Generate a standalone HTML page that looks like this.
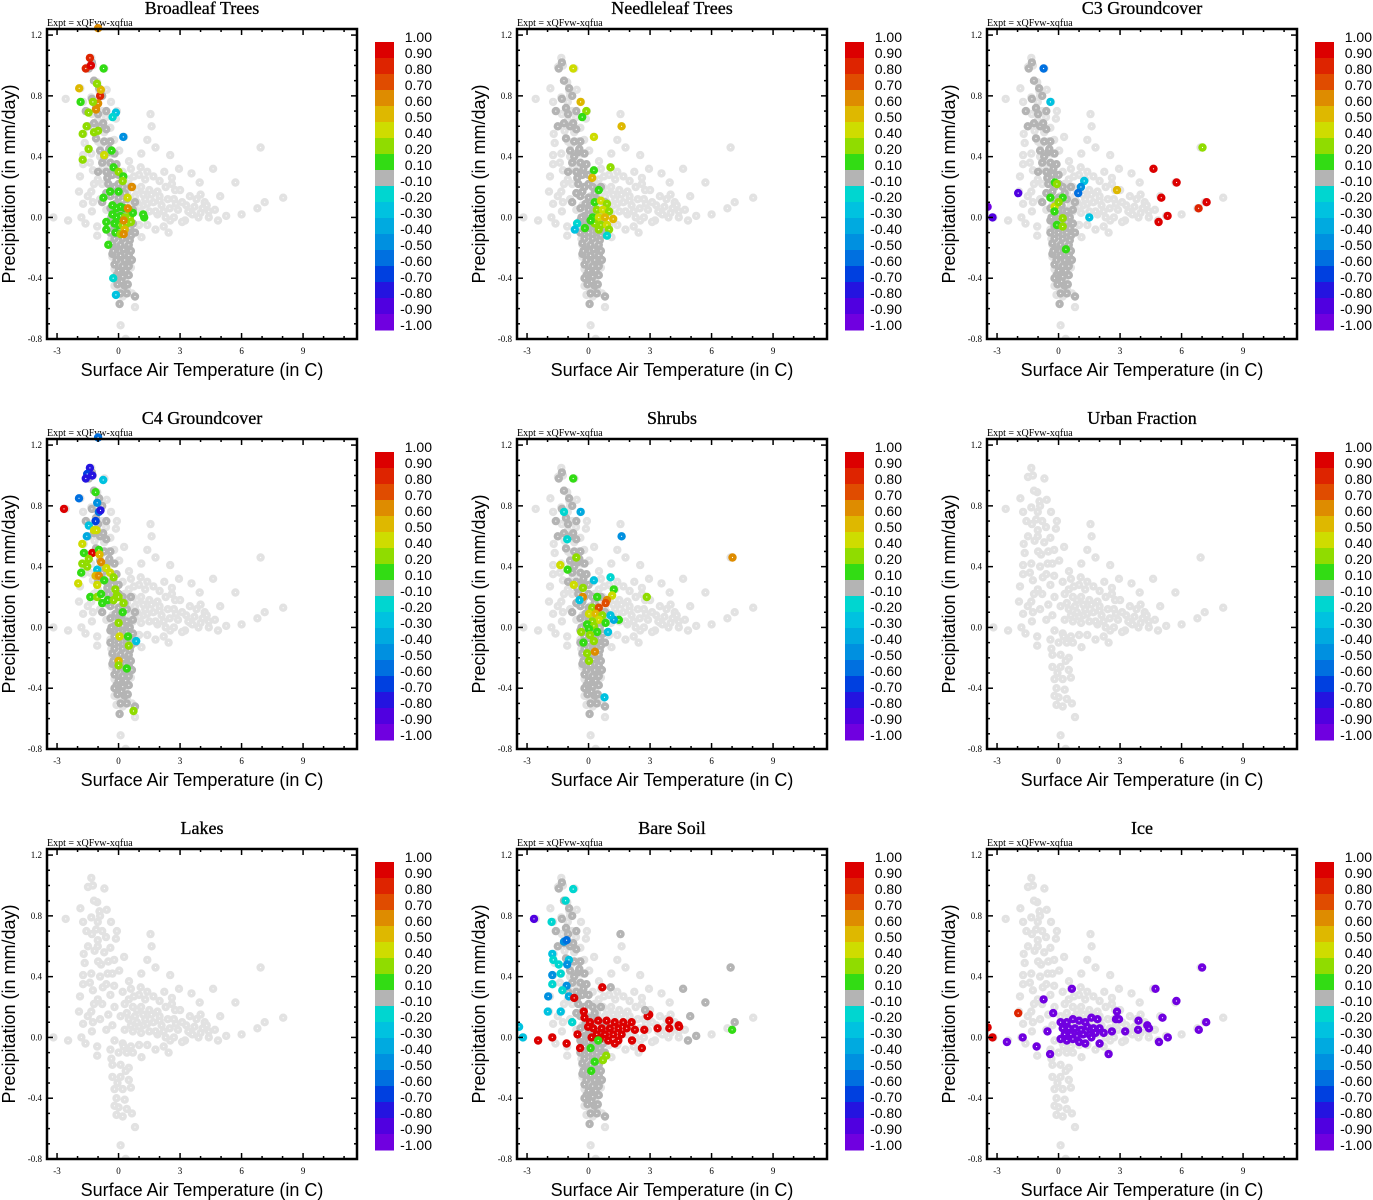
<!DOCTYPE html>
<html><head><meta charset="utf-8"><style>
html,body{margin:0;padding:0;background:#fff;}
svg{display:block;}
</style></head><body>
<svg id="fig" width="1373" height="1200" xmlns="http://www.w3.org/2000/svg"></svg>
<script>
// ---------- DATA ----------
const panelTitles = ["Broadleaf Trees","Needleleaf Trees","C3 Groundcover","C4 Groundcover","Shrubs","Urban Fraction","Lakes","Bare Soil","Ice"];
const xTicks = [-3,0,3,6,9];
const yTicks = [1.2,0.8,0.4,0.0,-0.4,-0.8];
const yTickLabels = ["1.2","0.8","0.4","0.0","-0.4","-0.8"];
const cbLabels = ["1.00","0.90","0.80","0.70","0.60","0.50","0.40","0.20","0.10","-0.10","-0.20","-0.30","-0.40","-0.50","-0.60","-0.70","-0.80","-0.90","-1.00"];
const cbBounds = [1.0,0.9,0.8,0.7,0.6,0.5,0.4,0.2,0.1,-0.1,-0.2,-0.3,-0.4,-0.5,-0.6,-0.7,-0.8,-0.9,-1.0];
const cbColors = ["#dc0000","#de2400","#e04c00","#de8c00","#deb800","#cedc00","#90dc00","#32dc14","#b4b4b4","#00d6d0","#00c2e0","#00aae0","#0090e0","#0070e0","#0040e0","#2414e0","#5000e0","#7000e0"];

// background (all cells) - temperature / precipitation
const baseT = [-1.33,-1.49,-1.25,-0.69,-1.04,-1.86,-0.58,-0.93,-2.58,-1.33,-1.73,-0.37,-1.01,-1.09,-1.57,-0.08,-0.61,-0.13,-1.01,1.56,1.61,-1.49,-1.01,-0.4,-1.7,-1.17,0.27,1.4,-0.21,-1.65,-0.85,1.8,6.93,-1.73,-1.33,-0.53,0.03,1.11,2.52,-1.73,0.51,-1.25,-0.77,-0.21,1.08,1.4,2.95,4.61,2.23,3.56,-1.88,2.6,3.96,5.7,0.75,-1.01,-1.93,-1.33,2.76,3.48,4.96,8.03,-1.73,-1.25,7.13,6.77,6.0,5.25,4.85,3.24,2.52,2.44,-1.81,-3.18,-2.46,-1.61,-1.04,-1.04,1.12,
 -1.2,-0.9,-0.8,-1.3,-0.7,-0.5,-1.0,-0.9,-0.3,-0.6,-1.4,-0.4,-0.8,-1.2,-0.5,-1.5,-0.9,-0.6,-1.3,
 0.2,0.6,1.0,1.3,1.7,2.0,0.3,0.7,1.1,1.5,1.9,2.3,2.7,3.1,0.1,0.5,0.9,1.3,1.7,2.1,2.5,2.9,3.3,3.7,4.1,4.4,4.2,3.8,4.7,4.4,3.9,3.5,0.3,0.7,1.1,1.5,1.9,2.3,2.7,3.1,0.2,0.6,1.0,1.4,1.8,2.2,-0.2,-0.3,-0.2,0.9,1.2,0.5,2.6,3.0,4.0,2.0,
 0.4,0.8,1.2,1.6,2.0,2.4,2.8,0.6,1.0,1.4,1.8,2.2,3.4,3.6,4.0,4.3,
 -0.4,0.0,0.4,0.7,-0.3,0.1,0.5,-0.3,0.1,0.5,-0.2,0.2,0.6,-0.1,0.3,0.0,0.4,-0.1,0.2,0.65,0.8,0.1,0.35,-0.35,0.25,-0.05,0.35,-0.2];
const baseP = [1.05,0.99,1.0,0.98,0.89,0.85,0.84,0.83,0.78,0.79,0.76,0.76,0.76,0.71,0.70,0.70,0.66,0.65,0.64,0.68,0.6,0.6,0.6,0.59,0.55,0.57,0.53,0.51,0.51,0.49,0.48,0.46,0.46,0.41,0.42,0.42,0.44,0.42,0.41,0.35,0.37,0.31,0.33,0.34,0.33,0.3,0.32,0.32,0.3,0.29,0.27,0.26,0.23,0.23,0.27,0.25,0.17,0.17,0.18,0.14,0.14,0.13,0.09,0.1,0.1,0.06,0.02,0.01,-0.02,-0.02,-0.02,-0.1,0.0,0.0,-0.02,-0.04,-0.06,-0.12,-0.13,
 0.9,0.8,0.7,0.68,0.56,0.5,0.5,0.4,0.42,0.35,0.36,0.28,0.22,0.22,0.15,0.14,0.12,0.05,0.04,
 0.3,0.32,0.28,0.25,0.27,0.24,0.22,0.2,0.2,0.18,0.17,0.2,0.12,0.1,0.14,0.12,0.1,0.12,0.1,0.08,0.06,0.05,0.08,0.07,0.06,0.04,0.1,0.12,0.05,0.0,0.0,0.03,0.05,0.04,0.03,0.04,0.02,0.0,0.0,-0.03,-0.04,-0.06,-0.05,-0.05,-0.08,-0.06,0.2,0.08,-0.02,0.18,0.08,0.25,0.22,0.18,0.15,0.14,
 0.16,0.14,0.15,0.15,0.11,0.12,0.09,0.08,0.07,0.09,0.04,0.04,0.04,0.02,0.03,0.08,
 -0.08,-0.1,-0.1,-0.1,-0.18,-0.18,-0.2,-0.26,-0.26,-0.28,-0.34,-0.34,-0.33,-0.4,-0.41,-0.46,-0.47,-0.51,-0.52,-0.5,-0.59,-0.71,-0.8,-0.14,-0.06,-0.3,-0.22,-0.45];

// core cells with near-zero fraction change (dark gray) shared by vegetated panels
const coreT = [-1.3,-1.45,-1.2,-0.95,-1.3,-0.8,-1.1,-0.6,-1.2,-0.9,-0.6,-1.1,-0.7,-0.4,-0.9,-0.5,-0.2,-0.8,-0.4,-0.1,-0.6,-0.3,0.0,-0.5,-0.2,0.2,-0.4,0.0,0.4,-0.4,0.0,0.4,0.7,-0.4,0.0,0.4,0.7,-0.4,0.0,0.4,0.6,-0.3,0.1,0.5,-0.3,0.1,0.5,-0.2,0.2,0.5,-0.1,0.2,0.5,-0.05,0.3,0.1,0.4,-0.2,0.8,0.8,0.8,0.6,-0.8,-1.5,-1.6,
 -1.0,-0.75,-0.45,-0.25,-0.55,-0.3,-0.15,0.15,-0.2,0.2,0.55,-0.2,0.2,0.55,-0.2,0.2,0.55,-0.15,0.25,0.6,-0.1,0.3,0.65,0.0,0.35,0.15,-0.25,0.05,0.45,-0.35,0.3,0.0,-0.6,-0.7,-1.0];
const coreP = [1.02,0.98,0.9,0.85,0.78,0.8,0.72,0.7,0.62,0.6,0.58,0.52,0.5,0.5,0.44,0.43,0.42,0.36,0.36,0.35,0.3,0.28,0.28,0.22,0.2,0.2,0.14,0.13,0.12,0.06,0.05,0.04,0.05,-0.02,-0.03,-0.03,-0.04,-0.1,-0.1,-0.1,-0.12,-0.17,-0.18,-0.18,-0.24,-0.25,-0.25,-0.31,-0.32,-0.32,-0.38,-0.39,-0.38,-0.44,-0.45,-0.5,-0.5,-0.4,-0.52,-0.1,0.1,0.2,0.1,0.6,0.7,
 0.68,0.62,0.45,0.32,0.26,0.17,0.09,0.08,0.01,0.01,0.0,-0.06,-0.06,-0.07,-0.14,-0.14,-0.15,-0.21,-0.21,-0.22,-0.28,-0.28,-0.28,-0.35,-0.35,-0.42,-0.22,-0.57,-0.44,0.0,0.16,0.22,0.16,0.4,0.3];
const coreShown = [1,1,1,1,1,0,0,1,0];

// per-panel highlighted cells: temperature, precipitation, fraction change
const broadT = [-1.4,-1.6,-1.35,-0.9,-1.0,-1.92,-0.86,-1.0,-1.1,-0.73,-1.05,-1.85,-1.25,-1.46,-1.56,-1.75,-1.2,-1.0,-1.46,-1.75,-0.7,-0.34,-0.13,-0.29,0.23,-0.24,0.0,0.23,0.2,0.65,-0.74,-0.41,0.0,0.44,-0.3,-0.1,0.1,0.3,0.5,-0.3,-0.1,0.1,0.3,0.55,0.7,-0.2,0.0,0.2,0.4,0.6,-0.15,0.1,0.3,0.45,0.25,0.25,1.25,1.2,-0.6,-0.5,-0.6,-0.13,-0.26];
const broadP = [1.05,0.98,1.0,0.8,1.245,0.85,0.84,0.75,0.71,0.98,0.88,0.76,0.76,0.69,0.6,0.55,0.56,0.57,0.45,0.38,0.41,0.44,0.69,0.66,0.53,0.33,0.3,0.27,0.24,0.2,0.13,0.17,0.17,0.13,0.08,0.06,0.07,0.06,0.05,0.02,0.0,0.01,0.0,0.0,0.03,-0.04,-0.05,-0.05,-0.04,-0.03,-0.1,-0.11,-0.08,0.06,-0.02,-0.11,0.0,0.02,-0.08,-0.18,-0.03,-0.51,-0.4];
const broadV = [0.8,0.8,0.9,0.8,0.6,0.5,0.5,0.6,0.6,0.1,0.2,0.1,0.2,0.2,0.2,0.2,0.2,0.2,0.2,0.2,0.4,0.1,-0.3,-0.2,-0.5,0.1,0.2,0.1,0.2,0.6,0.1,0.1,0.1,0.4,0.1,0.1,0.1,0.1,0.2,0.1,0.1,0.1,0.2,0.2,0.1,0.1,0.1,0.2,0.3,0.2,0.1,0.2,0.5,0.6,0.6,0.6,0.1,0.1,0.1,0.1,0.1,-0.3,-0.2];

const needleT = [-0.75,-0.39,-0.11,-0.31,1.61,0.26,1.07,0.26,0.18,0.5,0.3,0.6,0.9,0.4,0.7,1.0,0.2,0.5,0.8,1.2,0.3,0.6,0.9,0.1,1.0,0.5,-0.18,-0.56,-0.67,0.9];
const needleP = [0.98,0.76,0.7,0.66,0.6,0.53,0.33,0.31,0.26,0.18,0.1,0.11,0.09,0.05,0.05,0.04,0.0,0.0,0.0,-0.01,-0.04,-0.05,-0.05,-0.02,-0.08,-0.08,-0.07,-0.04,-0.08,-0.12];
const needleV = [0.4,0.5,0.2,0.1,0.5,0.4,0.2,0.1,0.5,0.1,0.1,0.4,0.3,0.3,0.4,0.2,0.1,0.4,0.5,0.5,0.2,0.3,0.4,0.1,0.2,0.2,0.1,-0.2,-0.3,-0.2];

const c3T = [-0.73,-0.4,1.25,1.09,0.96,1.5,-1.97,-3.46,-3.22,4.63,5.76,5.01,7.22,6.83,5.32,4.88,7.02,2.85,-0.18,-0.08,-0.4,0.2,-0.2,0.0,-0.2,0.2,-0.08,0.2,0.36];
const c3P = [0.98,0.76,0.24,0.2,0.16,0.0,0.16,0.07,0.0,0.32,0.23,0.13,0.1,0.06,0.01,-0.03,0.46,0.18,0.23,0.22,0.13,0.13,0.07,0.1,0.04,-0.005,-0.05,-0.06,-0.21];
const c3V = [-0.6,-0.3,-0.3,-0.5,-0.6,-0.3,-0.9,-1.0,-0.9,0.9,0.9,0.9,0.9,0.8,0.9,0.9,0.2,0.5,0.1,0.2,0.1,0.1,0.4,0.2,0.1,0.2,0.1,0.2,0.1];

const c4T = [-1.4,-1.53,-1.28,-1.6,-0.75,-1.0,-1.12,-1.93,-2.66,-1.04,-0.96,-0.88,-1.12,-1.45,-1.2,-1.07,-1.55,-1.77,-1.69,-1.28,-0.96,-0.93,-1.45,-1.77,-1.53,-0.85,-1.04,-0.6,-1.82,-1.12,-0.96,-0.41,-0.24,-1.97,-1.04,-0.7,-0.16,-0.08,0.0,-1.38,-1.04,-0.85,-0.8,-0.53,-0.24,0.24,0.2,0.0,0.05,0.46,0.5,0.86,0.0,0.4,0.73,0.0];
const c4P = [1.05,1.01,1.0,0.98,0.97,1.25,0.89,0.85,0.78,0.82,0.76,0.77,0.7,0.67,0.64,0.64,0.6,0.55,0.49,0.49,0.51,0.48,0.45,0.42,0.4,0.43,0.38,0.39,0.36,0.34,0.34,0.36,0.33,0.29,0.28,0.31,0.25,0.21,0.2,0.2,0.2,0.22,0.16,0.18,0.18,0.16,0.1,0.03,-0.06,-0.06,-0.12,-0.09,-0.22,-0.27,-0.55,-0.25];
const c4V = [-0.8,-0.7,-0.8,-0.8,-0.3,-0.6,0.1,-0.6,0.9,-0.5,-0.6,-0.8,-0.7,-0.3,0.4,0.4,-0.4,0.4,0.1,0.9,0.1,0.5,0.2,0.3,0.2,0.6,-0.3,0.4,0.1,0.5,0.6,0.4,0.3,0.4,0.4,0.1,0.3,0.2,0.3,0.1,0.3,0.1,0.1,0.1,0.2,0.3,0.1,0.2,0.4,0.1,0.2,-0.3,0.5,0.1,0.2,0.3];

const shrubT = [-0.75,-0.39,-1.2,1.61,-1.04,7.02,-0.6,-1.38,-1.02,1.07,0.26,-0.72,-0.27,1.23,1.15,2.84,-0.28,0.42,0.9,0.83,-0.44,0.18,0.5,0.02,0.34,0.67,0.5,0.18,-0.07,0.26,0.83,1.48,1.23,1.07,0.42,-0.36,0.02,-0.25,0.26,0.07,-0.07,0.31,0.02,0.78,0.95];
const shrubP = [0.98,0.76,0.76,0.6,0.58,0.46,0.46,0.41,0.38,0.33,0.31,0.28,0.26,0.25,0.21,0.2,0.2,0.2,0.18,0.16,0.18,0.13,0.13,0.09,0.09,0.08,0.05,0.04,0.02,0.01,0.03,0.05,0.05,0.08,-0.03,-0.03,-0.01,-0.1,-0.09,-0.05,-0.17,-0.16,-0.22,-0.46,-0.03];
const shrubV = [0.1,-0.4,-0.2,-0.5,-0.2,0.6,0.3,0.4,0.1,-0.2,-0.3,0.4,0.3,0.1,0.4,0.3,0.6,0.1,0.6,0.7,-0.3,0.3,0.7,0.4,0.5,0.2,0.4,0.2,0.1,0.3,0.1,0.1,-0.4,-0.3,0.1,0.2,0.1,0.1,0.2,0.3,0.2,0.6,0.2,-0.3,-0.3];

const bareT = [-0.75,-1.12,-2.66,-1.8,-1.2,-1.07,-1.77,-1.72,-1.45,-0.96,-1.04,-1.77,-1.36,-1.77,-1.07,-1.28,-0.96,-1.97,-1.99,-1.36,-0.8,-3.39,-3.2,
 0.67,-0.7,-0.23,-0.2,-2.46,-1.77,-1.07,-0.54,-0.41,2.6,2.12,0.07,0.47,0.88,1.28,1.69,2.1,0.23,0.64,1.04,1.45,1.86,2.26,0.4,0.8,1.2,1.61,1.45,0.96,0.55,1.28,2.96,2.88,2.72,3.37,3.94,3.94,4.39,4.42,-0.02,0.15,
 7.0,0.47,0.1,0.3,0.7,0.86,0.13,
 6.93,4.61,5.7,4.96,7.13,5.25,4.85,1.56,1.08,2.76];
const bareP = [0.976,0.9,0.78,0.76,0.63,0.64,0.55,0.51,0.48,0.51,0.48,0.41,0.42,0.35,0.34,0.31,0.27,0.27,0.17,0.17,0.1,0.07,0.0,
 0.33,0.26,0.17,0.13,-0.02,0.0,-0.04,0.02,-0.07,-0.07,-0.02,0.1,0.11,0.11,0.1,0.1,0.1,0.06,0.06,0.06,0.06,0.06,0.05,0.02,0.02,0.02,0.02,-0.02,-0.02,-0.01,-0.04,0.15,0.14,0.05,0.06,0.11,0.06,0.08,0.07,0.07,0.0,
 0.05,-0.02,-0.07,-0.16,-0.15,-0.12,-0.22,
 0.46,0.32,0.23,0.14,0.1,0.01,-0.02,0.68,0.33,0.18];
const bareV = [-0.2,-0.2,-0.9,-0.2,-0.5,-0.6,-0.3,-0.2,-0.2,-0.3,-0.5,-0.5,-0.2,-0.2,-0.5,-0.2,-0.4,-0.5,-0.3,-0.3,-0.2,-0.3,-0.3,
 0.9,0.9,0.9,0.9,0.9,0.9,0.9,0.9,0.9,0.9,0.9,0.9,0.9,0.9,0.9,0.9,0.9,0.9,0.9,0.9,0.9,0.9,0.9,0.9,0.9,0.9,0.9,0.9,0.9,0.9,0.9,0.9,0.9,0.9,0.9,0.9,0.9,0.9,0.9,0.9,0.9,
 0.1,0.1,0.1,0.1,0.2,0.3,0.1,
 0,0,0,0,0,0,0,0,0,0];

const iceT = [-3.46,-3.22,-1.97,-2.52,-1.75,-1.07,-0.73,-0.54,-0.41,-0.26,0.65,2.6,2.8,2.85,2.95,3.25,2.44,3.9,3.88,4.33,4.41,4.73,5.07,4.9,5.33,5.75,6.84,7.0,7.2,
 0.1,0.4,0.7,1.0,1.3,1.6,1.9,0.2,0.5,0.8,1.1,1.4,1.7,2.0,0.3,0.6,0.9,1.2,1.5,1.8,2.2,0.1,0.4,1.0,1.3,1.6,2.0,0.7];
const iceP = [0.066,0.0,0.16,-0.03,0.0,-0.06,0.25,0.04,-0.11,0.16,0.32,0.04,0.12,0.17,0.12,0.04,-0.11,0.11,0.05,0.08,0.06,0.32,0.13,-0.03,0.0,0.24,0.05,0.46,0.1,
 0.1,0.1,0.12,0.11,0.1,0.13,0.12,0.06,0.06,0.06,0.05,0.07,0.06,0.06,0.02,0.02,0.01,0.02,0.02,0.03,0.03,-0.01,-0.02,-0.03,-0.04,0.0,-0.04,-0.01];
const iceV = [0.9,0.9,0.8,-1,-1,-1,-1,-1,-1,-1,-1,-1,-1,-1,-1,-1,-1,-1,-1,-1,-1,-1,-1,-1,-1,-1,-1,-1,-1,
 -1,-1,-1,-1,-1,-1,-1,-1,-1,-1,-1,-1,-1,-1,-1,-1,-1,-1,-1,-1,-1,-1,-1,-1,-1,-1,-1,-1];

const panelT = [broadT,needleT,c3T,c4T,shrubT,[],[],bareT,iceT];
const panelP = [broadP,needleP,c3P,c4P,shrubP,[],[],bareP,iceP];
const panelV = [broadV,needleV,c3V,c4V,shrubV,[],[],bareV,iceV];

// ---------- DRAWING ----------
const NS = "http://www.w3.org/2000/svg";
const svg = document.getElementById('fig');
function mk(tag, attrs, parent){ const e=document.createElementNS(NS,tag); for(const k in attrs) e.setAttribute(k,attrs[k]); (parent||svg).appendChild(e); return e; }
const BX0=47, BX1=357, BY0=29, BY1=339;
const XMIN=-3.49, XMAX=11.63, YMIN=-0.8, YMAX=1.24;
function sx(t){ return BX0 + (t-XMIN)/(XMAX-XMIN)*(BX1-BX0); }
function sy(p){ return BY1 - (p-YMIN)/(YMAX-YMIN)*(BY1-BY0); }
function colorFor(v){
  for(let i=0;i<cbColors.length;i++){ if(v>=cbBounds[i+1]-1e-9) return cbColors[i]; }
  return cbColors[cbColors.length-1];
}
const serif = '"Liberation Serif", serif', sans='"Liberation Sans", sans-serif';

panelTitles.forEach((title, pi)=>{
  const ox = (pi%3)*470, oy = Math.floor(pi/3)*410;
  const g = mk('g',{transform:`translate(${ox},${oy})`});
  
  
  const t = mk('text',{x:202,y:14,'text-anchor':'middle','font-family':serif,'font-size':18,'stroke':'#000','stroke-width':0.3},g); t.textContent=title;
   
  const ex = mk('text',{x:47,y:26,'font-family':serif,'font-size':10},g); ex.textContent='Expt = xQFvw-xqfua';
   
  const cid='clip'+pi;
  const cp = mk('clipPath',{id:cid},g); mk('rect',{x:BX0,y:BY0-6,width:BX1-BX0+6,height:BY1-BY0+6},cp);
  const pts = mk('g',{'clip-path':`url(#${cid})`},g);
   
  function dot(t,p,col){
    const c = mk('circle',{cx:sx(t).toFixed(1),cy:sy(p).toFixed(1),r:2.4,fill:'#fff',stroke:col,'stroke-width':3.6},pts);
     
  }
  baseT.forEach((tv,i)=>dot(tv,baseP[i],'#e2e2e2'));
  if(coreShown[pi]) coreT.forEach((tv,i)=>dot(tv,coreP[i],'#b4b4b4'));
  panelT[pi].forEach((tv,i)=>{ const v=panelV[pi][i]; dot(tv,panelP[pi][i], Math.abs(v)<0.1?'#b4b4b4':colorFor(v)); });
  const fr = mk('rect',{x:BX0,y:BY0,width:BX1-BX0,height:BY1-BY0,fill:'none',stroke:'#000','stroke-width':2.5},g);
   
  for(let t=-3;t<=11;t++){
    const major = xTicks.includes(t); const L = major?6:3; const X=sx(t);
    mk('line',{x1:X,x2:X,y1:BY1,y2:BY1-L,stroke:'#000','stroke-width':1.5},g);
    mk('line',{x1:X,x2:X,y1:BY0,y2:BY0+L,stroke:'#000','stroke-width':1.5},g);
  }
  xTicks.forEach(t=>{ const l=mk('text',{x:sx(t),y:354,'text-anchor':'middle','font-family':serif,'font-size':9},g); l.textContent=String(t);
      });
  for(let k=-8;k<=12;k++){
    const p=k/10; const major = (k%4===0); const L=major?6:3; const Y=sy(p);
    mk('line',{x1:BX0,x2:BX0+L,y1:Y,y2:Y,stroke:'#000','stroke-width':1.5},g);
    mk('line',{x1:BX1,x2:BX1-L,y1:Y,y2:Y,stroke:'#000','stroke-width':1.5},g);
  }
  yTicks.forEach((p,i)=>{ const l=mk('text',{x:42,y:sy(p)+3,'text-anchor':'end','font-family':serif,'font-size':9},g); l.textContent=yTickLabels[i];
      });
  const xt = mk('text',{x:202,y:376,'text-anchor':'middle','font-family':sans,'font-size':18},g); xt.textContent='Surface Air Temperature (in C)';
   
  const yt = mk('text',{x:0,y:0,'text-anchor':'middle','font-family':sans,'font-size':18,transform:'translate(15,184) rotate(-90)'},g); yt.textContent='Precipitation (in mm/day)';
   
  const cb = mk('g',{},g);
   
  cbColors.forEach((c,i)=>{ const r=mk('rect',{x:375,y:42+i*16,width:19,height:16.5,fill:c},cb);
      });
  cbLabels.forEach((s,i)=>{ const l=mk('text',{x:432,y:42+i*16,'text-anchor':'end','font-family':sans,'font-size':14},cb); l.textContent=s;
      });
});
</script>
</body></html>
